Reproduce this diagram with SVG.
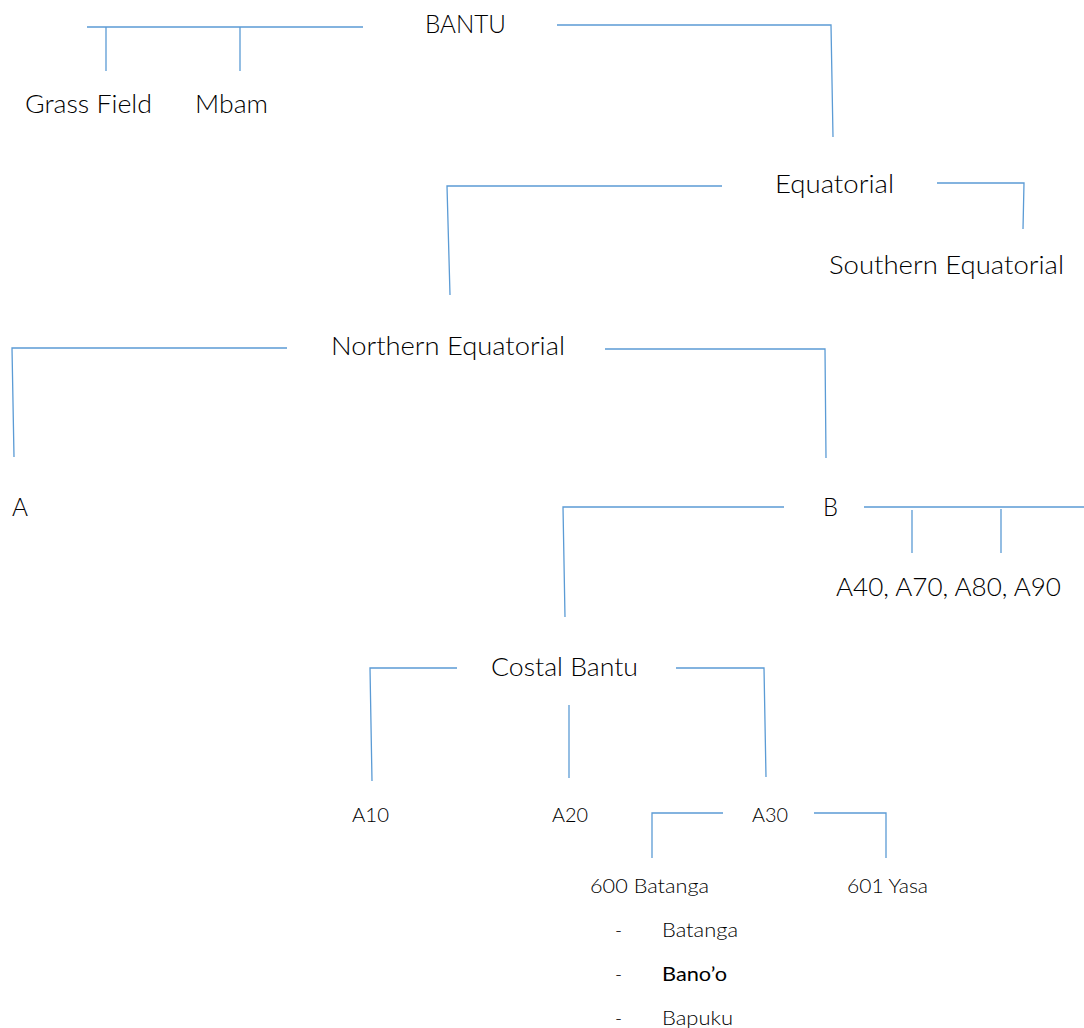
<svg xmlns="http://www.w3.org/2000/svg" width="1084" height="1028" viewBox="0 0 1084 1028">
<style>
.c{fill:none;stroke:#5B9BD5;stroke-width:1.3;}
.t{font-family:Lato,"Open Sans","Liberation Sans",sans-serif;font-weight:300;fill:#000;}
.l{font-size:25px;}
.s{font-size:19px;}
.b{font-weight:400;}
</style>
<rect width="1084" height="1028" fill="#fff"/>
<g id="connectors">
<path class="c" d="M87 27H363M106 27V71M240 27V71"/>
<polyline class="c" points="557,25 831,25 833,137"/>
<polyline class="c" points="722,186 447,186 450,295"/>
<polyline class="c" points="937,183 1024,183 1023,229"/>
<polyline class="c" points="287,348 12,348 14,457"/>
<polyline class="c" points="605,349 825,349 826,458"/>
<polyline class="c" points="784,507 563,507 565,617"/>
<path class="c" d="M864 507H1084M912 510V553M1001 509V553"/>
<polyline class="c" points="457,668 370,668 372,781"/>
<path class="c" d="M569 705V778"/>
<polyline class="c" points="676,668 764,668 766,777"/>
<polyline class="c" points="723,813 652,813 652,858"/>
<polyline class="c" points="814,813 886,813 886,858"/>
</g>
<g id="bantu"><text class="t l" x="425" y="33" textLength="81" lengthAdjust="spacingAndGlyphs">BANTU</text></g>
<g id="grass-field"><text class="t l" x="25" y="113" textLength="127" lengthAdjust="spacingAndGlyphs">Grass Field</text></g>
<g id="mbam"><text class="t l" x="195" y="113" textLength="73" lengthAdjust="spacingAndGlyphs">Mbam</text></g>
<g id="equatorial"><text class="t l" x="775" y="193" textLength="119" lengthAdjust="spacingAndGlyphs">Equatorial</text></g>
<g id="southern-equatorial"><text class="t l" x="829" y="274" textLength="235" lengthAdjust="spacingAndGlyphs">Southern Equatorial</text></g>
<g id="northern-equatorial"><text class="t l" x="331" y="355" textLength="234" lengthAdjust="spacingAndGlyphs">Northern Equatorial</text></g>
<g id="a"><text class="t l" x="12" y="516" textLength="16" lengthAdjust="spacingAndGlyphs">A</text></g>
<g id="b"><text class="t l" x="823" y="516" textLength="15" lengthAdjust="spacingAndGlyphs">B</text></g>
<g id="a40-a90"><text class="t l" x="836" y="596" textLength="225" lengthAdjust="spacingAndGlyphs">A40, A70, A80, A90</text></g>
<g id="costal-bantu"><text class="t l" x="491" y="676" textLength="147" lengthAdjust="spacingAndGlyphs">Costal Bantu</text></g>
<g id="a10"><text class="t s" x="352" y="822" textLength="37" lengthAdjust="spacingAndGlyphs">A10</text></g>
<g id="a20"><text class="t s" x="552" y="822" textLength="36" lengthAdjust="spacingAndGlyphs">A20</text></g>
<g id="a30"><text class="t s" x="752" y="822" textLength="36" lengthAdjust="spacingAndGlyphs">A30</text></g>
<g id="batanga-600"><text class="t s" x="590" y="893" textLength="119" lengthAdjust="spacingAndGlyphs">600 Batanga</text></g>
<g id="yasa-601"><text class="t s" x="847" y="893" textLength="81" lengthAdjust="spacingAndGlyphs">601 Yasa</text></g>
<g id="list">
<text class="t s" x="615" y="937">-</text>
<text class="t s" x="662" y="937" textLength="76" lengthAdjust="spacingAndGlyphs">Batanga</text>
<text class="t s" x="615" y="981">-</text>
<text class="t s b" x="662" y="981" textLength="65" lengthAdjust="spacingAndGlyphs">Bano’o</text>
<text class="t s" x="615" y="1025">-</text>
<text class="t s" x="662" y="1025" textLength="71" lengthAdjust="spacingAndGlyphs">Bapuku</text>
</g>
</svg>
